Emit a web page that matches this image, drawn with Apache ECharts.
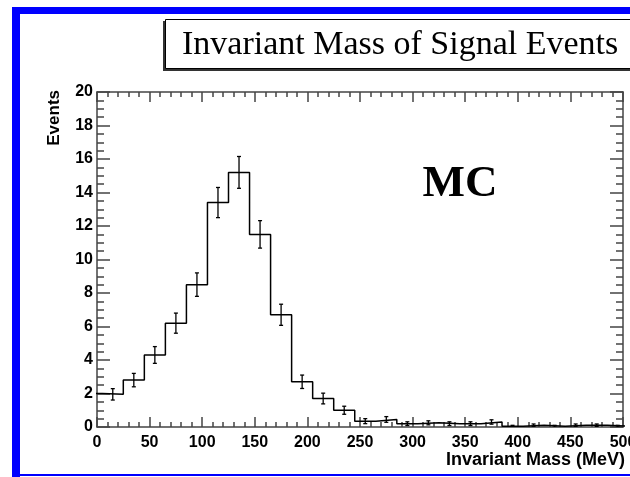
<!DOCTYPE html>
<html>
<head>
<meta charset="utf-8">
<script src="https://cdn.jsdelivr.net/npm/echarts@6/dist/echarts.min.js"></script>
<style>
  html, body { margin: 0; padding: 0; background: #fff; }
  #chart { width: 630px; height: 477px; }
</style>
</head>
<body>
<div id="chart"></div>
<script>
// Bin edges (MeV), bin contents and errors
const binEdges = [-15, 5, 25, 45, 65, 85, 105, 125, 145, 165, 185, 205, 225, 245, 265, 285, 305, 325, 345, 365, 385, 405, 425, 445, 465, 485, 505];
const counts = [2.0, 1.95, 2.8, 4.3, 6.2, 8.5, 13.4, 15.2, 11.5, 6.7, 2.7, 1.7, 1.0, 0.35, 0.45, 0.2, 0.25, 0.2, 0.2, 0.3, 0.05, 0.1, 0.05, 0.1, 0.1, 0.05];
const errors = [0.35, 0.34, 0.4, 0.5, 0.6, 0.7, 0.9, 0.95, 0.82, 0.63, 0.4, 0.32, 0.24, 0.15, 0.17, 0.11, 0.12, 0.11, 0.11, 0.13, 0.05, 0.08, 0.05, 0.08, 0.08, 0.05];
const xTicks = [0, 50, 100, 150, 200, 250, 300, 350, 400, 450, 500];
const yTicks = [0, 2, 4, 6, 8, 10, 12, 14, 16, 18, 20];

const titleText = 'Invariant Mass of Signal Events';
const xTitle = 'Invariant Mass (MeV)';
const yTitle = 'Events';
const tagText = 'MC';

const stepData = counts.map((v, i) => [binEdges[i], v]);
stepData.push([binEdges[binEdges.length - 1], counts[counts.length - 1]]);
const errData = counts.map((v, i) => [(binEdges[i] + binEdges[i + 1]) / 2, v, errors[i]]);

const axisColor = '#444';
const labelFont = { fontFamily: 'Liberation Sans', fontWeight: 'bold', fontSize: 16, color: '#000' };

const chart = echarts.init(document.getElementById('chart'), null, { renderer: 'canvas' });

function xAxisCfg(pos, showLabel) {
  return {
    type: 'value', position: pos, min: xTicks[0], max: xTicks[xTicks.length - 1], interval: 50,
    axisLine: { show: true, onZero: false, lineStyle: { color: axisColor, width: 1.5 } },
    axisTick: { show: true, inside: true, length: 10, lineStyle: { color: axisColor, width: 1.5 } },
    minorTick: { show: true, splitNumber: 5, length: 5, lineStyle: { color: axisColor, width: 1.5 } },
    splitLine: { show: false },
    axisLabel: Object.assign({ show: showLabel, margin: 8, showMaxLabel: true, hideOverlap: false }, labelFont)
  };
}
function yAxisCfg(pos, showLabel) {
  return {
    type: 'value', position: pos, min: yTicks[0], max: yTicks[yTicks.length - 1], interval: 2,
    axisLine: { show: true, onZero: false, lineStyle: { color: axisColor, width: 1.5 } },
    axisTick: { show: true, inside: true, length: 13, lineStyle: { color: axisColor, width: 1.5 } },
    minorTick: { show: true, splitNumber: 4, length: 7, lineStyle: { color: axisColor, width: 1.5 } },
    splitLine: { show: false },
    axisLabel: Object.assign({ show: showLabel, margin: 4 }, labelFont)
  };
}

const option = {
  animation: false,
  backgroundColor: '#fff',
  grid: { left: 97, right: 7, top: 92, bottom: 50, containLabel: false, outerBoundsMode: 'none' },
  xAxis: [xAxisCfg('bottom', true), xAxisCfg('top', false)],
  yAxis: [yAxisCfg('left', true), yAxisCfg('right', false)],
  series: [
    {
      type: 'line', step: 'end', data: stepData, xAxisIndex: 0, yAxisIndex: 0,
      showSymbol: false, clip: true,
      lineStyle: { color: '#000', width: 1.5 }
    },
    {
      type: 'custom', data: errData, xAxisIndex: 0, yAxisIndex: 0, clip: true,
      renderItem: function (params, api) {
        const x = api.value(0), v = api.value(1), e = api.value(2);
        const lo = api.coord([x, v - e]);
        const hi = api.coord([x, v + e]);
        const cap = 2;
        const style = { stroke: '#000', lineWidth: 1.3 };
        return {
          type: 'group',
          children: [
            { type: 'line', shape: { x1: lo[0], y1: lo[1], x2: hi[0], y2: hi[1] }, style: style },
            { type: 'line', shape: { x1: lo[0] - cap, y1: lo[1], x2: lo[0] + cap, y2: lo[1] }, style: style },
            { type: 'line', shape: { x1: hi[0] - cap, y1: hi[1], x2: hi[0] + cap, y2: hi[1] }, style: style }
          ]
        };
      }
    }
  ],
  graphic: [
    // blue canvas frame
    { type: 'rect', shape: { x: 12, y: 7, width: 618, height: 7 }, style: { fill: '#0000ff' }, z: 100 },
    { type: 'rect', shape: { x: 12, y: 7, width: 8, height: 470 }, style: { fill: '#0000ff' }, z: 100 },
    { type: 'rect', shape: { x: 12, y: 474, width: 618, height: 2 }, style: { fill: '#0000ff' }, z: 100 },
    // title box with shadow
    { type: 'rect', shape: { x: 163, y: 21, width: 480, height: 50 }, style: { fill: '#333' }, z: 50 },
    { type: 'rect', shape: { x: 165.5, y: 19.5, width: 480, height: 49 }, style: { fill: '#fff', stroke: '#000', lineWidth: 1 }, z: 51 },
    { type: 'text', x: 182, y: 45, style: { text: titleText, font: '34px "Liberation Serif"', fill: '#000', textVerticalAlign: 'middle', textAlign: 'left' }, z: 52 },
    // axis titles
    { type: 'text', x: 54, y: 90, rotation: Math.PI / 2, style: { text: yTitle, font: 'bold 17px "Liberation Sans"', fill: '#000', textAlign: 'right', textVerticalAlign: 'middle' }, z: 52 },
    { type: 'text', x: 625, y: 460, style: { text: xTitle, font: 'bold 18px "Liberation Sans"', fill: '#000', textAlign: 'right', textVerticalAlign: 'middle' }, z: 52 },
    // MC tag
    { type: 'text', x: 460, y: 184, style: { text: tagText, font: 'bold 45px "Liberation Serif"', fill: '#000', textAlign: 'center', textVerticalAlign: 'middle' }, z: 52 }
  ]
};
chart.setOption(option);
</script>
</body>
</html>
